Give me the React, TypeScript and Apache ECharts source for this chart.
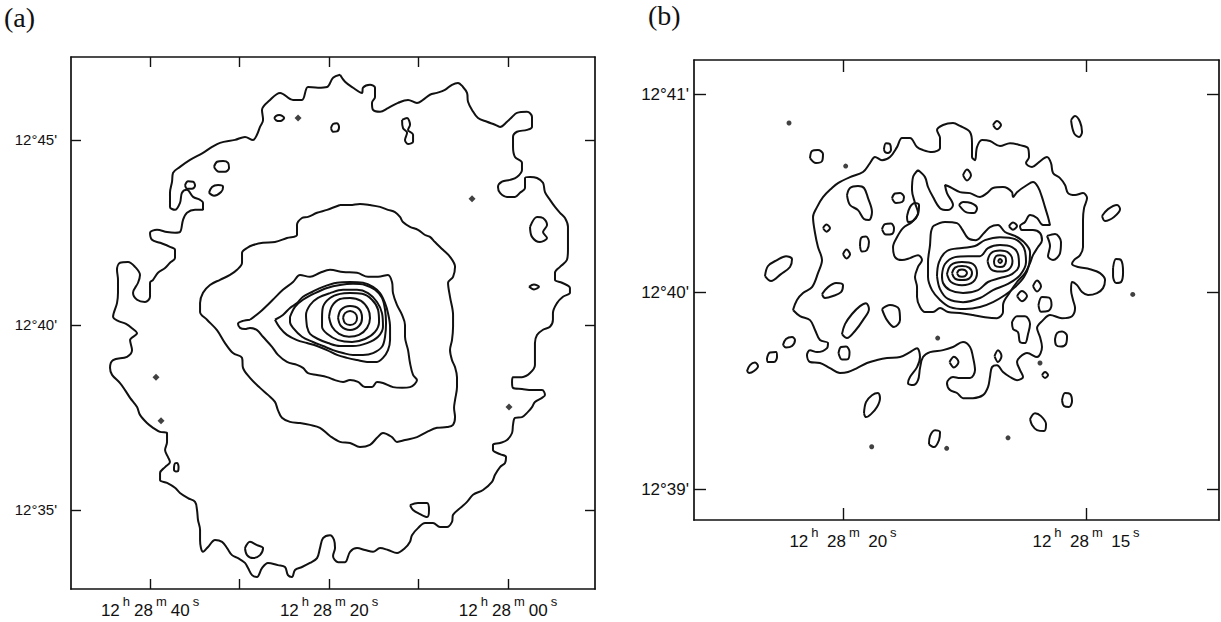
import React, { useEffect, useRef } from "react";
import * as echarts from "echarts";

// Panel (a): RA in seconds past 12h28m, Dec in arcminutes past 12°
const A_RA_TICKS = [0, 10, 20, 30, 40];
const A_RA_LABELS = [0, 20, 40];
const A_DEC_TICKS = [35, 40, 45];

// Panel (b)
const B_RA_TICKS = [15, 20];
const B_DEC_TICKS = [39, 40, 41];

type P = [number, number];

// ---- Panel (a) contours ----
const A_L1: P[] = [
  [18.77,46.76],[19.55,46.68],[20.22,46.43],[21.23,46.41],[22.35,46.43],[23.02,46.08],[24.02,46.08],[25.47,46.27],[26.59,46.08],[27.49,45.81],[27.37,45.54],[27.71,45.35],[28.05,45.14],[28.49,45.00],[29.39,45.08],[30.50,45.00],[32.18,44.92],[33.07,44.81],[34.08,44.65],[35.53,44.46],[36.65,44.27],[37.43,44.11],[37.54,43.87],[37.77,43.57],[37.77,43.19],[37.21,43.11],[36.65,43.30],[36.43,43.57],[35.87,43.65],[35.19,43.46],[34.41,43.38],[34.08,43.30],[34.08,43.11],[34.97,43.11],[35.87,43.03],[36.31,42.84],[36.65,42.51],[37.21,42.49],[38.10,42.51],[39.22,42.57],[40.00,42.49],[39.78,42.30],[38.88,42.22],[37.77,42.11],[37.21,42.03],[37.21,41.81],[37.77,41.68],[38.32,41.54],[39.11,41.41],[39.66,41.22],[40.00,41.14],[40.00,40.76],[40.56,40.62],[41.45,40.68],[41.90,40.87],[41.34,41.14],[41.12,41.35],[41.68,41.57],[42.46,41.70],[43.35,41.68],[43.69,41.49],[43.58,41.22],[43.58,40.87],[43.69,40.59],[44.13,40.22],[43.58,40.11],[42.68,40.03],[41.90,39.89],[41.45,39.78],[42.23,39.59],[42.01,39.32],[42.57,39.14],[44.13,39.05],[44.47,38.84],[44.24,38.65],[43.35,38.43],[42.79,38.24],[42.23,38.03],[41.45,37.78],[41.12,37.57],[40.34,37.35],[39.66,37.22],[38.88,37.11],[38.10,37.08],[38.10,36.84],[38.32,36.62],[37.99,36.43],[37.77,36.30],[38.32,36.16],[38.88,36.00],[38.88,35.81],[38.10,35.73],[37.21,35.60],[36.65,35.46],[35.76,35.32],[34.97,35.22],[34.75,35.00],[34.64,34.73],[34.41,34.46],[34.41,34.19],[34.08,33.87],[33.52,34.00],[32.73,34.19],[31.95,34.14],[31.39,33.97],[30.84,33.78],[30.17,33.70],[29.39,33.57],[29.05,33.43],[28.60,33.24],[28.05,33.19],[27.49,33.43],[26.82,33.57],[25.71,33.51],[24.92,33.46],[24.59,33.24],[24.14,33.19],[23.80,33.38],[23.02,33.46],[22.13,33.57],[21.34,33.70],[21.01,33.97],[20.67,34.24],[19.89,34.32],[19.44,34.19],[19.33,33.97],[19.55,33.76],[18.99,33.59],[18.21,33.59],[17.65,33.87],[16.87,33.97],[15.98,33.92],[15.08,33.87],[14.30,33.97],[13.41,33.92],[12.40,33.84],[11.51,33.97],[10.95,34.14],[10.73,34.32],[10.06,34.51],[9.27,34.65],[8.38,34.65],[7.60,34.54],[6.82,34.54],[6.26,34.68],[6.14,34.87],[5.36,35.05],[4.58,35.22],[3.91,35.41],[2.79,35.54],[1.79,35.76],[1.45,35.95],[0.89,36.16],[0.33,36.27],[0.22,36.43],[0.89,36.51],[1.68,36.62],[1.68,36.76],[0.89,36.81],[0.11,36.89],[-0.45,37.08],[-0.56,37.30],[-0.78,37.49],[-1.56,37.51],[-2.23,37.65],[-2.68,37.78],[-3.01,37.92],[-3.80,38.03],[-4.13,38.11],[-3.80,38.24],[-2.68,38.24],[-1.56,38.27],[-0.56,38.30],[-0.45,38.46],[-0.56,38.59],[-1.56,38.59],[-2.46,38.70],[-3.01,38.92],[-3.01,39.24],[-3.01,39.51],[-3.24,39.73],[-3.91,39.87],[-4.69,39.95],[-5.02,40.14],[-5.02,40.32],[-5.47,40.59],[-6.14,40.76],[-6.92,40.87],[-6.92,41.00],[-6.03,41.14],[-5.25,41.22],[-5.25,41.41],[-5.81,41.57],[-6.59,41.76],[-6.70,42.03],[-6.70,42.38],[-6.70,42.65],[-6.37,42.89],[-5.81,43.03],[-5.25,43.19],[-4.69,43.38],[-4.13,43.59],[-3.91,43.84],[-3.24,43.97],[-2.46,44.00],[-1.90,43.97],[-1.90,43.70],[-1.34,43.57],[-0.78,43.46],[0.11,43.46],[0.89,43.57],[1.12,43.73],[0.67,43.87],[-0.22,43.92],[-1.00,44.00],[-1.56,44.19],[-1.56,44.38],[-0.78,44.54],[-0.56,44.81],[-0.56,45.08],[-1.00,45.22],[-2.12,45.27],[-2.68,45.35],[-2.68,45.62],[-2.12,45.76],[-1.00,45.73],[-0.45,45.62],[0.11,45.49],[0.89,45.35],[1.45,45.41],[2.35,45.49],[3.35,45.59],[4.02,45.81],[4.47,46.03],[4.58,46.27],[5.03,46.43],[5.59,46.54],[6.26,46.49],[7.05,46.35],[7.94,46.27],[8.72,46.22],[9.50,46.08],[10.17,46.00],[11.17,46.08],[12.29,46.00],[13.41,45.86],[14.30,45.76],[15.08,45.81],[15.20,46.00],[14.86,46.16],[14.86,46.41],[15.42,46.49],[16.20,46.41],[16.31,46.27],[17.32,46.41],[18.21,46.57],
];
const A_L2: P[] = [
  [18.77,43.24],[20.22,43.11],[21.34,43.03],[22.35,42.92],[23.02,42.89],[23.58,42.70],[23.58,42.43],[24.70,42.35],[26.04,42.24],[27.38,42.22],[28.49,42.16],[29.16,42.08],[29.72,41.95],[29.72,41.68],[30.28,41.49],[31.06,41.35],[32.18,41.22],[33.30,41.08],[34.08,40.87],[34.41,40.59],[34.41,40.35],[33.63,40.14],[32.52,39.86],[31.62,39.51],[30.73,39.24],[29.72,39.11],[29.61,38.84],[28.83,38.57],[27.71,38.30],[26.82,38.11],[26.04,37.92],[25.71,37.70],[25.26,37.49],[24.36,37.38],[23.24,37.35],[22.12,37.30],[21.01,37.22],[19.89,37.00],[18.77,36.84],[17.65,36.81],[16.54,36.70],[15.42,36.76],[14.64,36.95],[13.97,37.08],[12.97,36.97],[12.41,36.84],[11.51,36.89],[10.17,36.97],[9.05,37.11],[7.93,37.22],[6.82,37.24],[6.14,37.30],[5.92,37.51],[6.03,37.76],[5.92,37.97],[5.70,38.32],[5.70,38.59],[5.92,38.86],[6.26,39.05],[6.48,39.32],[6.26,39.59],[6.14,39.95],[6.14,40.27],[6.48,40.76],[6.70,41.14],[6.14,41.30],[5.92,41.57],[6.48,41.84],[7.27,42.03],[8.16,42.24],[8.72,42.38],[9.27,42.43],[10.06,42.57],[10.95,42.65],[11.74,42.78],[12.07,42.92],[12.63,43.05],[13.41,43.11],[14.30,43.19],[15.42,43.24],[16.54,43.27],[17.65,43.24],
];
const A_L3: P[] = [
  [28.83,40.14],[29.61,40.11],[30.17,40.03],[29.94,39.92],[29.39,39.89],[28.83,39.92],[28.04,39.86],[27.38,39.68],[26.37,39.41],[25.70,39.19],[24.70,39.00],[23.58,38.92],[22.91,38.84],[22.35,38.70],[21.34,38.65],[20.22,38.59],[19.33,38.51],[18.43,38.46],[17.65,38.51],[16.76,38.46],[15.98,38.32],[15.19,38.32],[14.64,38.46],[13.97,38.43],[12.85,38.32],[11.84,38.30],[10.95,38.32],[10.17,38.51],[10.61,38.65],[10.95,38.97],[11.17,39.32],[11.51,39.68],[11.51,40.00],[11.84,40.27],[12.41,40.54],[12.85,40.86],[12.96,41.16],[13.41,41.35],[14.52,41.30],[15.64,41.30],[16.87,41.41],[18.43,41.43],[19.89,41.49],[21.01,41.41],[22.12,41.30],[23.24,41.35],[24.02,41.16],[25.15,40.95],[26.28,40.68],[27.71,40.35],
];
const A_L4: P[] = [
  [26.04,40.14],[25.15,40.27],[24.36,40.46],[23.58,40.59],[22.91,40.76],[21.90,40.89],[20.67,41.03],[19.11,41.14],[17.65,41.16],[16.20,41.14],[15.08,41.03],[14.30,40.86],[13.74,40.59],[13.41,40.32],[13.18,39.95],[13.18,39.59],[13.41,39.32],[13.97,39.11],[14.64,39.00],[15.75,39.00],[16.87,39.05],[17.99,39.11],[19.11,39.19],[20.23,39.32],[21.34,39.43],[22.46,39.51],[23.58,39.59],[24.70,39.73],[25.48,39.92],
];
const A_L5: P[] = [
  [24.36,40.22],[23.80,40.49],[22.91,40.68],[21.56,40.86],[20.22,41.00],[18.77,41.08],[17.32,41.11],[15.98,41.08],[14.86,40.95],[14.08,40.73],[13.74,40.41],[13.63,40.05],[13.74,39.68],[14.08,39.41],[15.08,39.24],[16.20,39.19],[17.32,39.19],[18.43,39.24],[19.55,39.32],[20.67,39.43],[21.79,39.54],[23.02,39.68],[24.02,39.92],[24.36,40.08],
];
const A_L6: P[] = [
  [22.46,39.95],[22.57,40.27],[22.12,40.54],[21.23,40.73],[19.89,40.86],[18.43,40.95],[16.87,40.95],[15.64,40.86],[14.64,40.62],[14.08,40.32],[13.97,39.95],[14.52,39.68],[15.75,39.51],[17.32,39.43],[18.77,39.43],[20.11,39.51],[21.23,39.62],[22.12,39.76],
];
const A_L7: P[] = [
  [20.78,40.19],[20.67,40.49],[19.89,40.73],[18.77,40.84],[17.65,40.86],[16.31,40.84],[15.20,40.68],[14.52,40.41],[14.41,40.08],[14.86,39.81],[15.98,39.62],[17.43,39.54],[18.99,39.59],[20.22,39.76],[20.78,39.95],
];
const A_L8: P[] = [
  [20.00,40.22],[19.66,40.51],[18.77,40.70],[17.65,40.73],[16.42,40.65],[15.64,40.43],[15.42,40.19],[15.75,39.92],[16.65,39.73],[17.77,39.68],[18.88,39.76],[19.66,39.95],
];
const A_L9: P[] = [
  [18.99,40.19],[18.66,40.41],[17.65,40.51],[16.65,40.43],[16.31,40.19],[16.65,39.97],[17.65,39.86],[18.66,39.97],
];
const A_L10: P[] = [
  [18.43,40.19],[18.21,40.32],[17.65,40.38],[17.09,40.32],[16.87,40.19],[17.09,40.05],[17.65,40.00],[18.21,40.05],
];
// small closed islands of the faint level
const A_ISLAND_1: P[] = [[26.12,45.59],[25.91,45.65],[25.57,45.67],[25.24,45.65],[25.01,45.59],[25.24,45.53],[25.57,45.51],[25.91,45.53]];
const A_ISLAND_2: P[] = [[19.78,45.32],[19.55,45.43],[19.11,45.45],[18.88,45.35],[19.11,45.23],[19.55,45.22]];
const A_ISLAND_3: P[] = [[32.85,44.27],[32.51,44.41],[31.84,44.43],[31.28,44.38],[31.17,44.24],[31.62,44.14],[32.29,44.14]];
const A_ISLAND_4: P[] = [[36.09,43.78],[35.75,43.88],[35.19,43.87],[34.97,43.76],[35.31,43.68],[35.86,43.68]];
const A_ISLAND_5: P[] = [[33.41,43.57],[33.07,43.73],[32.40,43.78],[31.84,43.73],[32.06,43.59],[32.85,43.49]];
const A_ISLAND_6: P[] = [[11.84,45.54],[11.28,45.59],[10.95,45.41],[11.17,45.27],[10.61,45.14],[10.61,44.95],[11.17,44.89],[11.51,45.00],[11.28,45.19],[11.73,45.32]];
const A_ISLAND_7: P[] = [[-2.46,42.65],[-3.24,42.92],[-3.91,42.89],[-4.36,42.70],[-3.91,42.51],[-4.36,42.35],[-3.57,42.24],[-2.68,42.38]];
const A_ISLAND_8: P[] = [[-2.35,41.03],[-2.90,41.09],[-3.46,41.03],[-2.90,40.96]];
const A_ISLAND_9: P[] = [[37.32,36.16],[37.21,36.26],[36.98,36.27],[36.81,36.16],[36.87,36.05],[37.10,36.04],[37.32,36.08]];
const A_ISLAND_10: P[] = [[29.39,33.97],[28.83,34.14],[28.04,34.05],[27.37,33.97],[27.71,33.78],[28.49,33.70],[29.16,33.78]];
const A_ISLAND_11: P[] = [[10.95,35.13],[10.06,35.19],[9.05,35.19],[8.83,35.00],[9.05,34.81],[9.83,34.89],[10.61,35.00]];
const A_DOTS: P[] = [[23.46,45.59],[4.02,43.41],[-0.11,37.78],[39.33,38.59],[38.77,37.41]];

// ---- Panel (b) contours ----
const B_L1: P[] = [
  [21.029,39.909],[20.947,39.960],[20.823,39.995],[20.638,40.025],[20.515,40.096],[20.432,40.162],[20.515,40.228],[20.576,40.299],[20.617,40.380],[20.535,40.430],[20.412,40.481],[20.227,40.527],[20.103,40.552],[19.856,40.582],[19.589,40.608],[19.445,40.653],[19.342,40.684],[19.198,40.668],[19.033,40.684],[18.889,40.734],[18.786,40.780],[18.622,40.780],[18.477,40.734],[18.354,40.719],[18.169,40.709],[18.004,40.729],[18.004,40.780],[18.066,40.820],[17.942,40.846],[17.737,40.856],[17.593,40.841],[17.387,40.810],[17.346,40.754],[17.346,40.684],[17.284,40.668],[17.243,40.734],[17.140,40.770],[16.976,40.765],[16.770,40.739],[16.564,40.754],[16.358,40.744],[16.194,40.729],[16.173,40.684],[16.235,40.653],[16.111,40.633],[15.967,40.658],[15.803,40.684],[15.720,40.653],[15.679,40.603],[15.535,40.577],[15.432,40.542],[15.370,40.501],[15.226,40.491],[15.062,40.501],[14.979,40.476],[15.041,40.425],[15.062,40.365],[15.062,40.299],[15.062,40.228],[15.123,40.187],[15.247,40.162],[15.288,40.142],[15.164,40.127],[14.918,40.116],[14.712,40.096],[14.609,40.061],[14.650,40.020],[14.773,39.995],[14.959,39.985],[15.082,40.000],[15.185,40.035],[15.288,40.051],[15.308,40.010],[15.267,39.960],[15.226,39.919],[15.288,39.878],[15.494,39.868],[15.741,39.884],[15.885,39.858],[16.008,39.818],[15.947,39.772],[15.906,39.722],[16.008,39.671],[16.214,39.691],[16.358,39.671],[16.420,39.646],[16.358,39.605],[16.296,39.570],[16.420,39.554],[16.564,39.570],[16.708,39.595],[16.832,39.630],[16.935,39.620],[16.976,39.570],[17.017,39.519],[17.120,39.478],[17.326,39.463],[17.531,39.463],[17.655,39.489],[17.799,39.504],[17.861,39.539],[17.737,39.570],[17.593,39.565],[17.387,39.565],[17.284,39.605],[17.326,39.671],[17.387,39.722],[17.531,39.747],[17.737,39.722],[17.942,39.706],[18.210,39.696],[18.354,39.671],[18.416,39.615],[18.457,39.554],[18.560,39.529],[18.663,39.539],[18.622,39.570],[18.477,39.620],[18.416,39.671],[18.477,39.716],[18.622,39.696],[18.827,39.671],[19.095,39.666],[19.301,39.656],[19.507,39.641],[19.712,39.615],[19.897,39.595],[20.062,39.590],[20.268,39.615],[20.474,39.641],[20.679,39.646],[20.741,39.681],[20.679,39.706],[20.535,39.696],[20.329,39.716],[20.309,39.742],[20.474,39.757],[20.576,39.808],[20.679,39.858],[20.885,39.878],
];
const B_L2: P[] = [
  [18.457,40.618],[18.560,40.582],[18.581,40.517],[18.519,40.451],[18.457,40.400],[18.581,40.355],[18.766,40.324],[18.889,40.278],[18.971,40.228],[18.930,40.177],[18.786,40.162],[18.622,40.172],[18.457,40.187],[18.375,40.162],[18.457,40.127],[18.519,40.076],[18.477,40.025],[18.477,39.975],[18.416,39.924],[18.313,39.899],[18.148,39.899],[18.004,39.919],[17.839,39.899],[17.593,39.894],[17.326,39.884],[17.079,39.873],[16.832,39.868],[16.708,39.899],[16.708,39.934],[16.564,40.000],[16.420,40.051],[16.255,40.096],[16.152,40.147],[16.091,40.187],[15.988,40.228],[15.906,40.263],[15.947,40.299],[16.091,40.314],[16.317,40.314],[16.358,40.334],[16.255,40.355],[16.152,40.390],[16.008,40.375],[15.885,40.339],[15.741,40.339],[15.782,40.380],[15.844,40.430],[15.906,40.481],[15.988,40.532],[16.091,40.557],[16.214,40.542],[16.420,40.506],[16.502,40.481],[16.523,40.506],[16.708,40.532],[16.914,40.527],[17.038,40.501],[17.181,40.481],[17.387,40.501],[17.593,40.506],[17.799,40.532],[17.902,40.542],[17.861,40.501],[17.737,40.441],[17.839,40.415],[18.004,40.425],[18.148,40.481],[18.251,40.532],[18.313,40.582],
];
const B_L3: P[] = [
  [18.148,40.334],[17.902,40.355],[17.655,40.349],[17.552,40.319],[17.428,40.273],[17.264,40.263],[17.099,40.299],[16.976,40.329],[16.811,40.339],[16.667,40.304],[16.461,40.284],[16.276,40.253],[16.152,40.203],[16.173,40.137],[16.276,40.076],[16.461,40.025],[16.667,39.985],[16.914,39.949],[17.181,39.924],[17.490,39.914],[17.799,39.924],[18.004,39.960],[18.169,40.010],[18.251,40.076],[18.251,40.152],[18.210,40.238],[18.190,40.304],
];
const B_C2: P[] = [
  [18.066,40.081],[18.025,40.152],[17.861,40.208],[17.552,40.223],[17.284,40.233],[17.079,40.263],[16.770,40.278],[16.461,40.268],[16.276,40.223],[16.235,40.152],[16.358,40.086],[16.605,40.041],[16.914,40.010],[17.181,39.970],[17.531,39.949],[17.839,39.965],[18.004,40.015],
];
const B_C1: P[] = [
  [17.964,40.086],[17.902,40.142],[17.696,40.177],[17.428,40.182],[17.181,40.182],[17.017,40.223],[16.770,40.238],[16.523,40.228],[16.399,40.192],[16.379,40.137],[16.523,40.091],[16.770,40.071],[17.017,40.051],[17.222,40.010],[17.531,39.995],[17.799,40.010],[17.942,40.046],
];
const B_EAST_3: P[] = [[17.861,40.091],[17.778,40.137],[17.552,40.152],[17.326,40.142],[17.243,40.096],[17.326,40.051],[17.552,40.035],[17.778,40.051]];
const B_EAST_2: P[] = [[17.758,40.096],[17.696,40.124],[17.552,40.132],[17.408,40.124],[17.346,40.096],[17.408,40.068],[17.552,40.061],[17.696,40.068]];
const B_EAST_1: P[] = [[17.655,40.096],[17.614,40.111],[17.552,40.114],[17.490,40.111],[17.449,40.096],[17.490,40.081],[17.552,40.078],[17.614,40.081]];
const B_WEST_2: P[] = [[17.027,40.157],[16.955,40.197],[16.770,40.210],[16.585,40.197],[16.513,40.157],[16.585,40.116],[16.770,40.104],[16.955,40.116]];
const B_WEST_1: P[] = [[16.894,40.157],[16.852,40.182],[16.770,40.187],[16.667,40.180],[16.646,40.157],[16.688,40.132],[16.770,40.127],[16.873,40.134]];
const B_WEST_0: P[] = [[16.811,40.157],[16.770,40.167],[16.729,40.157],[16.770,40.147]];

const B_ISLANDS: P[][] = [
  [[20.679,40.678],[20.638,40.714],[20.515,40.719],[20.412,40.699],[20.432,40.663],[20.556,40.653]],
  [[19.157,40.724],[19.116,40.754],[19.033,40.749],[19.013,40.719],[19.075,40.704],[19.136,40.709]],
  [[19.918,40.491],[19.856,40.527],[19.692,40.537],[19.568,40.527],[19.486,40.476],[19.404,40.405],[19.466,40.365],[19.568,40.370],[19.692,40.415],[19.856,40.441]],
  [[18.992,40.476],[18.930,40.499],[18.827,40.501],[18.745,40.481],[18.786,40.456],[18.909,40.451]],
  [[18.683,40.385],[18.622,40.430],[18.519,40.451],[18.436,40.441],[18.457,40.395],[18.560,40.360],[18.663,40.355]],
  [[20.412,40.324],[20.340,40.342],[20.268,40.324],[20.340,40.306]],
  [[19.198,40.319],[19.136,40.344],[19.013,40.347],[18.951,40.324],[18.992,40.294],[19.116,40.291]],
  [[19.650,40.233],[19.630,40.273],[19.527,40.281],[19.466,40.253],[19.507,40.213],[19.609,40.205]],
  [[20.000,40.192],[19.928,40.215],[19.856,40.192],[19.928,40.170]],
  [[21.605,40.081],[21.543,40.132],[21.358,40.162],[21.173,40.182],[21.049,40.167],[21.091,40.127],[21.276,40.091],[21.481,40.056]],
  [[20.432,39.990],[20.309,40.025],[20.144,40.046],[20.000,40.035],[20.041,40.000],[20.206,39.980],[20.371,39.970]],
  [[20.021,39.787],[19.959,39.838],[19.815,39.889],[19.650,39.929],[19.527,39.944],[19.466,39.914],[19.589,39.858],[19.753,39.803],[19.918,39.767]],
  [[19.198,39.914],[19.033,39.934],[18.848,39.914],[18.827,39.858],[18.951,39.823],[19.095,39.858]],
  [[20.093,39.691],[20.041,39.722],[19.938,39.724],[19.866,39.696],[19.897,39.661],[20.021,39.658]],
  [[21.235,39.732],[21.173,39.762],[21.049,39.772],[20.988,39.757],[21.049,39.727],[21.173,39.719]],
  [[21.564,39.666],[21.502,39.694],[21.379,39.696],[21.358,39.671],[21.420,39.646],[21.543,39.646]],
  [[21.975,39.600],[21.914,39.630],[21.811,39.643],[21.749,39.625],[21.831,39.600],[21.934,39.590]],
  [[19.568,39.387],[19.527,39.443],[19.404,39.478],[19.280,39.489],[19.239,39.463],[19.301,39.418],[19.424,39.382],[19.527,39.367]],
  [[18.231,39.230],[18.210,39.271],[18.107,39.301],[18.004,39.291],[18.025,39.251],[18.128,39.215]],
  [[17.809,39.646],[17.717,39.673],[17.624,39.646],[17.717,39.618]],
  [[16.914,40.846],[16.832,40.866],[16.749,40.846],[16.832,40.825]],
  [[15.308,40.871],[15.226,40.891],[15.123,40.861],[15.082,40.810],[15.144,40.785],[15.247,40.805]],
  [[17.531,40.592],[17.449,40.620],[17.367,40.592],[17.449,40.565]],
  [[17.613,40.441],[17.531,40.456],[17.367,40.451],[17.243,40.425],[17.305,40.400],[17.470,40.405]],
  [[16.585,40.334],[16.502,40.352],[16.420,40.334],[16.502,40.316]],
  [[15.803,40.284],[15.638,40.294],[15.515,40.253],[15.535,40.197],[15.679,40.162],[15.782,40.182],[15.741,40.233]],
  [[14.671,40.385],[14.547,40.420],[14.362,40.441],[14.300,40.420],[14.424,40.380],[14.609,40.360]],
  [[14.444,40.122],[14.382,40.167],[14.279,40.162],[14.238,40.101],[14.279,40.051],[14.382,40.046],[14.444,40.081]],
  [[16.420,39.980],[16.317,40.005],[16.214,39.980],[16.317,39.954]],
  [[16.091,40.030],[16.008,40.058],[15.926,40.030],[16.008,40.003]],
  [[15.978,39.934],[15.906,39.975],[15.762,39.972],[15.710,39.934],[15.782,39.904],[15.926,39.901]],
  [[16.523,39.848],[16.420,39.878],[16.255,39.878],[16.152,39.838],[16.194,39.787],[16.255,39.742],[16.358,39.747],[16.399,39.797],[16.502,39.813]],
  [[15.638,39.762],[15.597,39.792],[15.494,39.800],[15.391,39.777],[15.412,39.737],[15.515,39.724],[15.617,39.732]],
  [[16.883,39.676],[16.811,39.706],[16.739,39.676],[16.811,39.646]],
  [[15.906,39.580],[15.844,39.595],[15.782,39.580],[15.844,39.565]],
  [[15.494,39.453],[15.432,39.489],[15.329,39.484],[15.288,39.448],[15.350,39.418],[15.453,39.423]],
  [[16.152,39.357],[16.049,39.387],[15.926,39.372],[15.823,39.332],[15.865,39.296],[16.008,39.301],[16.111,39.327]],
];
const B_DOTS: P[] = [[21.111,40.856],[19.945,40.638],[18.052,39.767],[19.410,39.217],[17.867,39.209],[15.947,39.641],[16.605,39.262],[14.039,39.988]];

const A_CONTOURS: P[][] = [
  A_L1, A_L2, A_L3, A_L4, A_L5, A_L6, A_L7, A_L8, A_L9, A_L10,
  A_ISLAND_1, A_ISLAND_2, A_ISLAND_3, A_ISLAND_4, A_ISLAND_5, A_ISLAND_6,
  A_ISLAND_7, A_ISLAND_8, A_ISLAND_9, A_ISLAND_10, A_ISLAND_11,
];
const B_CONTOURS: P[][] = [
  B_L1, B_L2, B_L3, B_C2, B_C1, B_EAST_3, B_EAST_2, B_EAST_1, B_WEST_2, B_WEST_1, B_WEST_0,
  ...B_ISLANDS,
];

const SANS = "'Liberation Sans', Arial, sans-serif";
const INK = "#111";

const closeRing = (pts: P[]): P[] => pts.concat([pts[0]]);

const raRich = {
  n: { fontSize: 17, fontFamily: SANS, color: INK, verticalAlign: "bottom", lineHeight: 26, padding: [0, 2, 0, 2] },
  u: { fontSize: 13, fontFamily: SANS, color: INK, verticalAlign: "bottom", lineHeight: 26, padding: [0, 2, 11, 1] },
};

function raLabelA(v: number) {
  const ss = v === 0 ? "00" : String(v);
  return `{n|12}{u|h}{n|28}{u|m}{n|${ss}}{u|s}`;
}
function raLabelB(v: number) {
  return `{n|12}{u|h} {n|28}{u|m} {n|${v}}{u|s}`;
}
const decLabel = (v: number) => `12°${v}'`;

function frameAxes(
  grid: number,
  ra: { min: number; max: number; ticks: number[]; labels: number[]; fmt: (v: number) => string },
  dec: { min: number; max: number; ticks: number[] },
  tickLen: number,
  decMargin: number,
  decFont: number,
) {
  const line = { show: true, onZero: false, lineStyle: { color: INK, width: 1.7 } };
  const tick = (vals: number[]) => ({ show: true, inside: true, length: tickLen, customValues: vals, lineStyle: { color: INK, width: 1.4 } });
  const xBase = { gridIndex: grid, type: "value", inverse: true, min: ra.min, max: ra.max, axisLine: line, splitLine: { show: false } };
  const yBase = { gridIndex: grid, type: "value", min: dec.min, max: dec.max, axisLine: line, splitLine: { show: false } };
  return {
    x: [
      {
        ...xBase,
        position: "bottom",
        axisTick: tick(ra.ticks),
        axisLabel: { show: true, customValues: ra.labels, formatter: ra.fmt, rich: raRich, fontSize: 16, fontFamily: SANS, color: INK, margin: 4 },
      },
      { ...xBase, position: "top", axisTick: tick(ra.ticks), axisLabel: { show: false } },
    ],
    y: [
      {
        ...yBase,
        position: "left",
        axisTick: tick(dec.ticks),
        axisLabel: { show: true, customValues: dec.ticks, formatter: decLabel, fontSize: decFont, fontFamily: SANS, color: INK, margin: decMargin },
      },
      { ...yBase, position: "right", axisTick: tick(dec.ticks), axisLabel: { show: false } },
    ],
  };
}

export default function App() {
  const ref = useRef<HTMLDivElement>(null);

  useEffect(() => {
    if (!ref.current) return;
    const chart = echarts.init(ref.current, null, { renderer: "svg" });

    const axA = frameAxes(
      0,
      { min: -9.72, max: 48.83, ticks: A_RA_TICKS, labels: A_RA_LABELS, fmt: raLabelA },
      { min: 32.865, max: 47.24, ticks: A_DEC_TICKS },
      10,
      14,
      15,
    );
    const axB = frameAxes(
      1,
      { min: 12.264, max: 23.066, ticks: B_RA_TICKS, labels: B_RA_TICKS, fmt: raLabelB },
      { min: 38.846, max: 41.175, ticks: B_DEC_TICKS },
      12,
      5,
      17,
    );

    const contourSeries = (sets: P[][], xi: number, yi: number) =>
      sets.map((pts) => ({
        type: "line",
        xAxisIndex: xi,
        yAxisIndex: yi,
        data: closeRing(pts),
        showSymbol: false,
        symbol: "none",
        smooth: 0.35,
        silent: true,
        lineStyle: { color: INK, width: 2 },
      }));

    const option = {
      animation: false,
      backgroundColor: "#fff",
      grid: [
        { left: 71, top: 57, width: 524, height: 532 },
        { left: 694, top: 60, width: 525, height: 460 },
      ],
      xAxis: [...axA.x, ...axB.x],
      yAxis: [...axA.y, ...axB.y],
      graphic: [
        { type: "text", left: 4, top: 3, style: { text: "(a)", font: "28px 'Liberation Serif', serif", fill: INK } },
        { type: "text", left: 648, top: 1, style: { text: "(b)", font: "28px 'Liberation Serif', serif", fill: INK } },
      ],
      series: [
        ...contourSeries(A_CONTOURS, 0, 0),
        ...contourSeries(B_CONTOURS, 2, 2),
        { type: "scatter", xAxisIndex: 0, yAxisIndex: 0, data: A_DOTS, symbol: "diamond", symbolSize: 7, itemStyle: { color: INK }, silent: true },
        { type: "scatter", xAxisIndex: 2, yAxisIndex: 2, data: B_DOTS, symbol: "circle", symbolSize: 5, itemStyle: { color: INK }, silent: true },
      ],
    };

    chart.setOption(option as any);
    return () => chart.dispose();
  }, []);

  return (
    <div
      ref={ref}
      style={{ position: "absolute", left: 0, top: 0, width: 1221, height: 622, background: "#fff" }}
    />
  );
}
